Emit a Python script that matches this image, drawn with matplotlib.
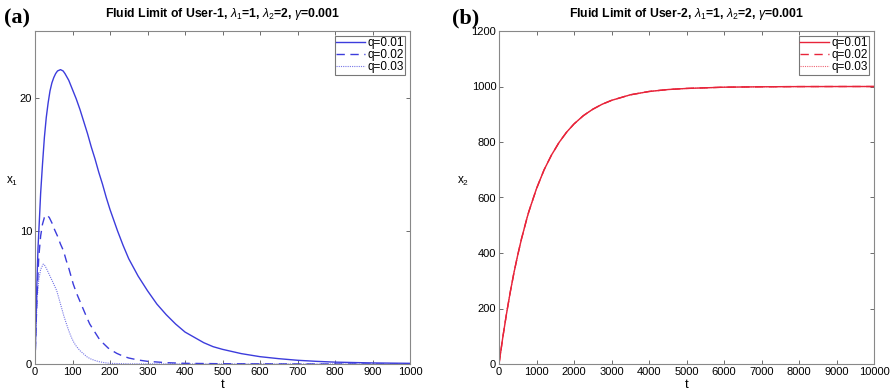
import matplotlib
matplotlib.use("Agg")
import matplotlib.pyplot as plt

plt.rcParams['font.family'] = ['Liberation Sans', 'DejaVu Sans']
plt.rcParams['mathtext.fontset'] = 'custom'
plt.rcParams['mathtext.rm'] = 'Liberation Sans'
plt.rcParams['mathtext.it'] = 'Liberation Sans:italic'
plt.rcParams['mathtext.bf'] = 'Liberation Sans:bold'

# ---- Data ----
legend_labels = ['q=0.01', 'q=0.02', 'q=0.03']

# Panel (a): x1(t)
t_q1 = [0, 2, 5, 8, 12, 15, 20, 25, 30, 35, 40, 45, 50, 55, 60, 68, 75, 80, 90,
        100, 110, 120, 130, 140, 150, 160, 170, 180, 190, 200, 210, 220, 235,
        250, 275, 300, 325, 350, 375, 400, 425, 450, 475, 500, 550, 600, 650,
        700, 750, 800, 900, 1000]
x1_q1 = [0, 2.5, 6, 8.7, 11, 12.8, 15, 17, 18.5, 19.6, 20.5, 21.1, 21.5, 21.8,
         22.0, 22.1, 22.0, 21.8, 21.3, 20.6, 19.9, 19.1, 18.2, 17.3, 16.3, 15.4,
         14.4, 13.5, 12.5, 11.6, 10.8, 10.0, 8.9, 7.9, 6.6, 5.5, 4.5, 3.7, 3.0,
         2.4, 2.0, 1.6, 1.3, 1.1, 0.78, 0.55, 0.4, 0.28, 0.2, 0.14, 0.08, 0.05]

t_q2 = [0, 3, 6, 10, 15, 20, 25, 31, 38, 45, 52, 60, 68, 76, 83, 90, 96, 102,
        111, 120, 129, 138, 146, 155, 164, 173, 184, 195, 206, 218, 234, 250,
        275, 300, 350, 400, 500, 700, 1000]
x1_q2 = [0, 3, 5.5, 8, 9.6, 10.5, 11.0, 11.2, 11.0, 10.6, 10.1, 9.6, 9.0, 8.5,
         7.8, 7.2, 6.6, 6.0, 5.3, 4.7, 4.1, 3.5, 3.0, 2.6, 2.2, 1.8, 1.5, 1.2,
         1.0, 0.8, 0.6, 0.45, 0.3, 0.2, 0.1, 0.05, 0.02, 0.0, 0.0]

t_q3 = [0, 3, 6, 10, 15, 22, 26, 30, 35, 40, 45, 50, 58, 64, 70, 77, 84, 90, 97,
        104, 111, 120, 130, 138, 147, 158, 170, 185, 200, 250, 1000]
x1_q3 = [0, 3, 5, 6.3, 7.1, 7.5, 7.4, 7.2, 6.9, 6.6, 6.3, 6.0, 5.5, 4.9, 4.3,
         3.6, 3.0, 2.5, 2.0, 1.6, 1.3, 1.0, 0.75, 0.55, 0.4, 0.28, 0.18, 0.1,
         0.05, 0.01, 0]

# Panel (b): x2(t) (all three q curves coincide)
t_b = [0, 100, 200, 300, 400, 500, 600, 750, 800, 1000, 1200, 1400, 1600, 1800,
       2000, 2250, 2500, 2750, 3000, 3500, 4000, 4500, 5000, 6000, 7000, 8000,
       9000, 10000]
x2 = [0, 95, 181, 259, 330, 393, 451, 528, 551, 632, 699, 753, 798, 835, 865,
      895, 918, 936, 950, 970, 982, 989, 993, 997.5, 999, 999.7, 999.9, 1000]

xticks_a = list(range(0, 1001, 100))
yticks_a = [0, 10, 20]
xticks_b = list(range(0, 10001, 1000))
yticks_b = list(range(0, 1201, 200))

blue = '#3c3cdc'
red = '#e8243a'

W, H = 891, 391
fig = plt.figure(figsize=(W / 100, H / 100), dpi=100)
axa = fig.add_axes([35 / W, 1 - 364 / H, 375 / W, 333 / H])
axb = fig.add_axes([499 / W, 1 - 364 / H, 375 / W, 333 / H])

styles = ['-', (0, (6, 4)), (0, (1, 1))]

axa.plot(t_q1, x1_q1, color=blue, ls=styles[0], lw=1.0, label=legend_labels[0])
axa.plot(t_q2, x1_q2, color=blue, ls=styles[1], lw=1.0, label=legend_labels[1])
axa.plot(t_q3, x1_q3, color=blue, ls=styles[2], lw=0.8, alpha=0.7, label=legend_labels[2])

axb.plot(t_b, x2, color=red, ls=styles[0], lw=1.0, label=legend_labels[0])
axb.plot(t_b, x2, color=red, ls=styles[1], lw=1.0, label=legend_labels[1])
axb.plot(t_b, x2, color=red, ls=styles[2], lw=0.8, alpha=0.7, label=legend_labels[2])

axa.set_xlim(0, 1000)
axa.set_ylim(0, 25)
axa.set_xticks(xticks_a)
axa.set_yticks(yticks_a)
axb.set_xlim(0, 10000)
axb.set_ylim(0, 1200)
axb.set_xticks(xticks_b)
axb.set_yticks(yticks_b)

for ax in (axa, axb):
    ax.tick_params(direction='in', top=True, right=True, length=3, width=0.6,
                   labelsize=8, pad=2, colors='#555555', labelcolor='black')
    for s in ax.spines.values():
        s.set_color('#888888')
        s.set_linewidth(0.8)
    ax.set_xlabel('t', fontsize=9.5)
    ax.xaxis.set_label_coords(0.5, -0.044)
    leg = ax.legend(loc='upper right', fontsize=8.5, frameon=True, fancybox=False,
                    borderpad=0.1, labelspacing=0.0, handlelength=2.4,
                    handletextpad=0.2, borderaxespad=0.45)
    leg.get_frame().set_edgecolor('#555555')
    leg.get_frame().set_linewidth(0.8)

axa.set_ylabel(r'x$_1$', fontsize=8.5, rotation=0)
axa.yaxis.set_label_coords(-0.062, 0.53)
axb.set_ylabel(r'x$_2$', fontsize=8.5, rotation=0)
axb.yaxis.set_label_coords(-0.095, 0.53)

axa.set_title(r'Fluid Limit of User-1, $\lambda_1$=1, $\lambda_2$=2, $\gamma$=0.001',
              fontsize=8.8, fontweight='bold', pad=10)
axb.set_title(r'Fluid Limit of User-2, $\lambda_1$=1, $\lambda_2$=2, $\gamma$=0.001',
              fontsize=8.8, fontweight='bold', pad=10)

fig.text(4 / W, 1 - 18 / H, '(a)', fontsize=16, fontweight='bold',
         family='Liberation Serif', va='center', ha='left')
fig.text(452 / W, 1 - 18 / H, '(b)', fontsize=16, fontweight='bold',
         family='Liberation Serif', va='center', ha='left')

fig.savefig('out.png', dpi=100)
